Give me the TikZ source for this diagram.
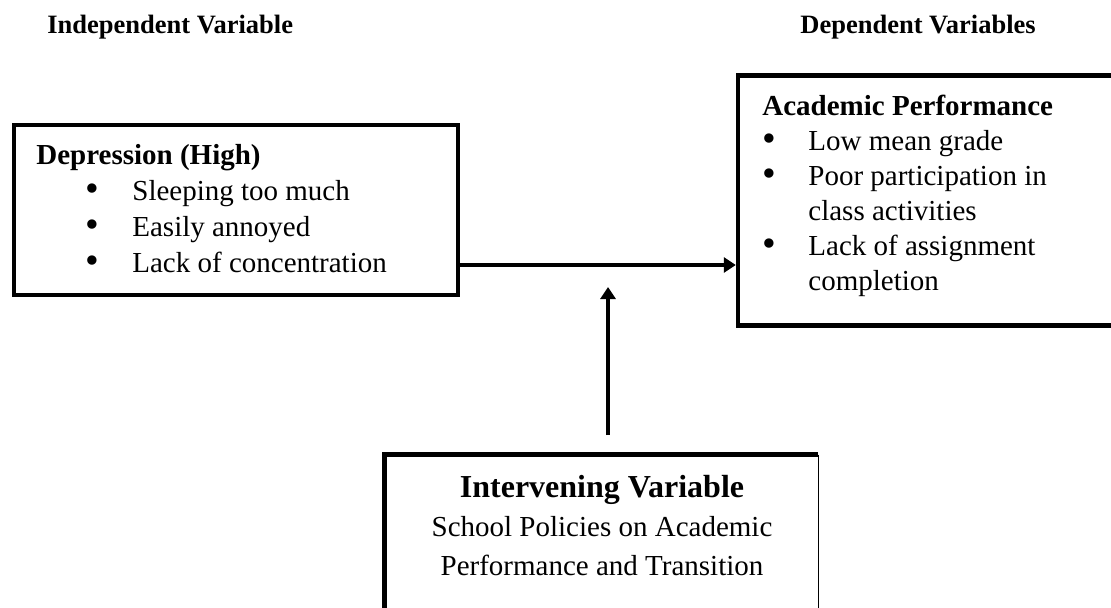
\documentclass[tikz,border=0pt]{standalone}
\usepackage{fontspec}
\setmainfont{Liberation Serif}
\usepackage{tikz}
\usetikzlibrary{arrows.meta}

\newcommand{\bul}{\smash{\raisebox{-0.3pt}{\scalebox{1.35}{\textbullet}}}}
\newcommand{\bitem}[1]{\makebox[#1][l]{\bul}}

\tikzset{
  frame/.style={draw, line width=2.2pt, inner sep=0pt},
  body/.style={align=left, inner sep=0pt, font=\fontsize{14.5}{18}\selectfont},
  head/.style={inner sep=0pt, font=\fontsize{13.25}{16}\selectfont\bfseries},
  link/.style={line width=2pt},
  tip/.style={-{Triangle[length=6pt,width=7.5pt]}}
}

\begin{document}
\begin{tikzpicture}[x=0.5pt,y=-0.5pt]
    \useasboundingbox (0,0) rectangle (1111,607);
    \clip (0,0) rectangle (1111,607);
    \node[head, anchor=base west] (iv) at (47,33) {Independent Variable};
    \node[head, anchor=base west] (dv) at (800,33) {Dependent Variables};

    % boxes
    \node[frame, minimum width=222pt, minimum height=85pt] (dep) at (236,210) {};
    \node[frame, minimum width=193.5pt, minimum height=125pt] (perf) at (931.5,200.5) {};
    \node[inner sep=0pt, minimum width=216.5pt, minimum height=92.5pt] (inter) at (601.5,547.5) {};
    \draw[line width=2.2pt] (inter.south west) |- (inter.north east);
    \draw[line width=0.6pt] (inter.north east) -- (inter.south east);

    \node[body, anchor=north west] (deptxt) at (36,144) {%
      \textbf{Depression (High)}\\
      \hspace*{24.5pt}\bitem{23.5pt}Sleeping too much\\
      \hspace*{24.5pt}\bitem{23.5pt}Easily annoyed\\
      \hspace*{24.5pt}\bitem{23.5pt}Lack of concentration};
    \node[body, anchor=north west, font=\fontsize{14.5}{17.5}\selectfont] (perftxt) at (762,95) {%
      \textbf{Academic Performance}\\
      \bitem{23pt}Low mean grade\\
      \bitem{23pt}Poor participation in\\
      \hspace*{23pt}class activities\\
      \bitem{23pt}Lack of assignment\\
      \hspace*{23pt}completion};
    \node[body, align=center, anchor=north, font=\fontsize{14.5}{19.5}\selectfont] (intertxt) at (602,475) {%
      {\fontsize{16}{20}\selectfont\bfseries Intervening Variable}\\
      School Policies on Academic\\
      Performance and Transition};

    % connectors
    \coordinate (join) at (597,265);
    \coordinate (pol) at (608,435);
    \coordinate (mod) at (608,287);
    \draw[link] (dep.east |- join) -- (join);
    \draw[link, tip] (join) -- (perf.west |- join);
    \draw[link, tip] (pol) -- (mod);
\end{tikzpicture}
\end{document}
